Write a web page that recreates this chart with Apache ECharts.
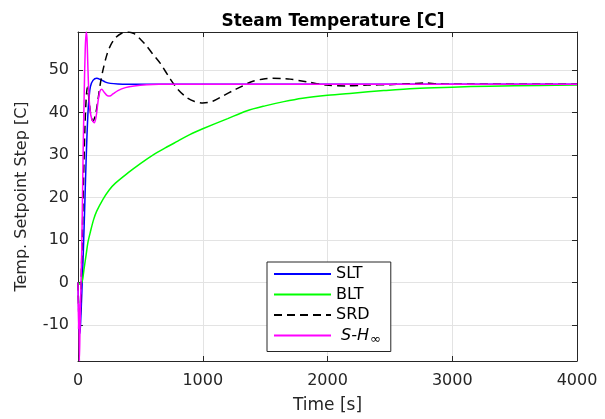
<!DOCTYPE html>
<html>
<head>
<meta charset="utf-8">
<script src="https://cdn.jsdelivr.net/npm/echarts@6/dist/echarts.min.js"></script>
<style>
html,body{margin:0;padding:0;background:#fff;}
#c{width:605px;height:419px;}
</style>
</head>
<body>
<div id="c"></div>
<script>
// ---- data ----
const xTicks = [0, 1000, 2000, 3000, 4000];
const yTicks = [-10, 0, 10, 20, 30, 40, 50];

const sltT = [0, 5, 10, 15, 20, 30, 40, 50, 60, 70, 80, 90, 100, 120, 150, 180, 220, 260, 320, 400, 1000, 2000, 3000, 4000];
const sltV = [0, -6, -11, -12, -10, -3, 5, 14, 24, 33, 40, 44, 46.2, 47.6, 48.1, 47.8, 47.2, 46.9, 46.75, 46.7, 46.7, 46.7, 46.7, 46.7];

const bltT = [0, 20, 35, 50, 65, 80, 100, 125, 150, 200, 250, 300, 400, 500, 600, 700, 800, 900, 1000, 1200, 1350, 1500, 1650, 1800, 2000, 2200, 2450, 2700, 3000, 3300, 3700, 4000];
const bltV = [0, -0.5, 0.5, 3.5, 6.5, 9.5, 12, 14.8, 16.8, 19.6, 21.8, 23.4, 25.8, 28, 30, 31.7, 33.3, 34.9, 36.2, 38.6, 40.4, 41.6, 42.6, 43.4, 44.1, 44.6, 45.2, 45.7, 46.0, 46.25, 46.4, 46.5];

const srdT = [0, 5, 10, 18, 25, 35, 45, 55, 65, 75, 85, 100, 120, 140, 160, 180, 200, 230, 260, 300, 350, 400, 450, 500, 550, 600, 660, 740, 800, 870, 930, 1000, 1080, 1165, 1250, 1300, 1390, 1500, 1560, 1650, 1700, 1830, 1990, 2150, 2320, 2500, 2650, 2780, 2880, 3000, 4000];
const srdV = [0, -6, -10, -8, 0, 12, 25, 36, 43, 46, 44, 40, 38, 39.5, 43, 47, 50, 53.5, 55.8, 57.6, 58.7, 59, 58.6, 57.3, 55.7, 53.8, 51.6, 47.9, 45.5, 43.6, 42.7, 42.3, 42.7, 44, 45.3, 46, 47.3, 48, 48.1, 48, 47.9, 47.3, 46.5, 46.3, 46.5, 46.6, 46.8, 47.0, 46.8, 46.7, 46.7];

const shT = [0, 4, 8, 11, 16, 22, 30, 36, 42, 50, 58, 66, 72, 78, 85, 95, 110, 130, 145, 160, 175, 190, 210, 235, 255, 280, 320, 380, 450, 550, 650, 1000, 2000, 3000, 4000];
const shV = [0, -11, -5, -18.5, -11, -3, 8, 20, 32, 45, 55, 59, 57.5, 52, 46, 41, 38.5, 37.6, 39, 42.5, 45, 45.5, 44.8, 44, 43.9, 44.4, 45.2, 45.9, 46.3, 46.6, 46.7, 46.7, 46.7, 46.7, 46.7];

const pairs = (t, v) => t.map((x, i) => [x, v[i]]);

const FONT = '"DejaVu Sans", "Liberation Sans", Arial, sans-serif';
const AX = '#262626';
const GRID = '#e3e3e3';

const chart = echarts.init(document.getElementById('c'), null, {renderer: 'canvas'});

const common = {
  type: 'line', showSymbol: false, symbol: 'none', smooth: 0.3,
  animation: false, xAxisIndex: 0, yAxisIndex: 0
};

chart.setOption({
  animation: false,
  backgroundColor: '#fff',
  title: {
    text: 'Steam Temperature [C]',
    left: 328, top: 8, textAlign: 'center',
    textStyle: {fontFamily: FONT, fontSize: 17, fontWeight: 'bold', color: '#000'}
  },
  grid: {left: 78, right: 28, top: 32, bottom: 55, containLabel: false},
  legend: {
    orient: 'vertical',
    left: 267, top: 262,
    itemWidth: 57, itemHeight: 14, itemGap: 4.5,
    padding: [4, 10, 5, 6],
    backgroundColor: '#fff',
    borderColor: AX, borderWidth: 1,
    itemStyle: {opacity: 0},
    textStyle: {fontFamily: FONT, fontSize: 16, color: '#000', lineHeight: 16,
      rich: {
        it: {fontFamily: FONT, fontSize: 16, fontStyle: 'italic', color: '#000', padding: [0, 0, 0, 5]},
        sub: {fontFamily: FONT, fontSize: 13, color: '#000', padding: [9, 0, 0, 1]}
      }
    },
    formatter: n => n === 'S-H∞' ? '{it|S-H}{sub|∞}' : n,
    data: ['SLT', 'BLT', 'SRD', 'S-H∞']
  },
  xAxis: [{
    type: 'value', position: 'bottom', min: xTicks[0], max: xTicks[xTicks.length - 1], interval: 1000,
    name: 'Time [s]', nameLocation: 'middle', nameGap: 36,
    nameTextStyle: {fontFamily: FONT, fontSize: 17, color: AX},
    axisLine: {show: true, onZero: false, lineStyle: {color: AX, width: 1}},
    axisTick: {show: true, inside: true, length: 5, lineStyle: {color: AX}},
    axisLabel: {fontFamily: FONT, fontSize: 16, color: AX, margin: 12, formatter: v => String(v)},
    splitLine: {show: true, lineStyle: {color: GRID, width: 1}}
  }, {
    type: 'value', position: 'top', min: xTicks[0], max: xTicks[xTicks.length - 1], interval: 1000,
    axisLine: {show: true, onZero: false, lineStyle: {color: AX, width: 1}},
    axisTick: {show: true, inside: true, length: 5, lineStyle: {color: AX}},
    axisLabel: {show: false}, splitLine: {show: false}
  }],
  yAxis: [{
    type: 'value', position: 'left', min: -18.5, max: 59, splitNumber: 8,
    name: 'Temp. Setpoint Step [C]', nameLocation: 'middle', nameGap: 48,
    nameTextStyle: {fontFamily: FONT, fontSize: 16, color: AX},
    axisLine: {show: true, onZero: false, lineStyle: {color: AX, width: 1}},
    axisTick: {show: true, inside: true, length: 5, lineStyle: {color: AX}},
    axisLabel: {fontFamily: FONT, fontSize: 16, color: AX, margin: 9, showMinLabel: false, showMaxLabel: false,
      formatter: v => (yTicks.indexOf(v) >= 0 ? String(v) : '')},
    splitLine: {show: true, lineStyle: {color: GRID, width: 1}}
  }, {
    type: 'value', position: 'right', min: -18.5, max: 59, splitNumber: 8,
    axisLine: {show: true, onZero: false, lineStyle: {color: AX, width: 1}},
    axisTick: {show: true, inside: true, length: 5, lineStyle: {color: AX}},
    axisLabel: {show: false}, splitLine: {show: false}
  }],
  series: [
    Object.assign({}, common, {name: 'SLT', data: pairs(sltT, sltV), lineStyle: {color: '#0000ff', width: 1.5}, itemStyle: {color: '#0000ff', opacity: 0}}),
    Object.assign({}, common, {name: 'BLT', data: pairs(bltT, bltV), lineStyle: {color: '#00ff00', width: 1.5}, itemStyle: {color: '#00ff00', opacity: 0}}),
    Object.assign({}, common, {name: 'SRD', data: pairs(srdT, srdV), lineStyle: {color: '#000000', width: 1.5, type: [8, 5]}, itemStyle: {color: '#000000', opacity: 0}}),
    Object.assign({}, common, {name: 'S-H∞', data: pairs(shT, shV), lineStyle: {color: '#ff00ff', width: 1.5}, itemStyle: {color: '#ff00ff', opacity: 0}})
  ]
});
</script>
</body>
</html>
